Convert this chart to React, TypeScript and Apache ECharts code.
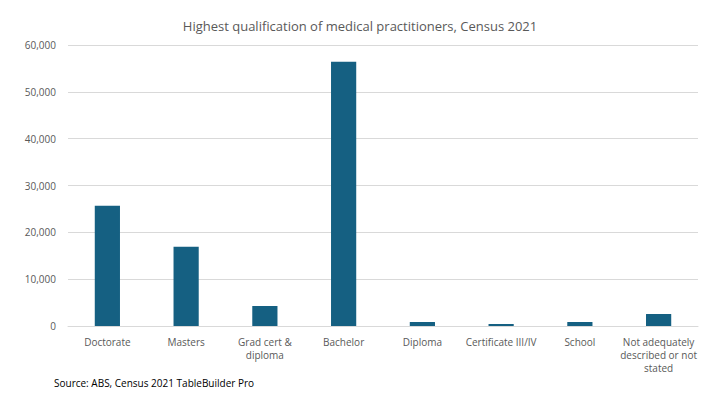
import React, { useEffect, useRef } from "react";
import * as echarts from "echarts";

const categories = [
  "Doctorate",
  "Masters",
  "Grad cert &\ndiploma",
  "Bachelor",
  "Diploma",
  "Certificate III/IV",
  "School",
  "Not adequately\ndescribed or not\nstated",
];
const values = [25650, 16900, 4270, 56400, 850, 430, 850, 2560];
const yTicks = { min: 0, max: 60000, interval: 10000 };

const FONT = "'Open Sans', 'Noto Sans', sans-serif";

export default function App() {
  const ref = useRef<HTMLDivElement>(null);
  useEffect(() => {
    document.body.style.margin = "0";
    const chart = echarts.init(ref.current!, null, { renderer: "svg" });
    chart.setOption({
      animation: false,
      backgroundColor: "#ffffff",
      title: {
        text: "Highest qualification of medical practitioners, Census 2021",
        left: "center",
        top: 14,
        textStyle: { fontFamily: FONT, fontSize: 13, fontWeight: "normal", color: "#595959" },
      },
      graphic: [
        {
          type: "text",
          left: 54,
          top: 378,
          style: {
            text: "Source: ABS, Census 2021 TableBuilder Pro",
            fontFamily: FONT,
            fontSize: 10,
            fill: "#000000",
          },
        },
      ],
      grid: { left: 68, right: 22, top: 45, bottom: 79, containLabel: false },
      xAxis: {
        type: "category",
        data: categories,
        axisLine: { lineStyle: { color: "#d9d9d9" } },
        axisTick: { show: false },
        axisLabel: {
          interval: 0,
          margin: 9,
          fontFamily: FONT,
          fontSize: 10,
          color: "#595959",
          lineHeight: 13,
        },
      },
      yAxis: {
        type: "value",
        min: yTicks.min,
        max: yTicks.max,
        interval: yTicks.interval,
        axisLine: { show: false },
        axisTick: { show: false },
        splitLine: { lineStyle: { color: "#d9d9d9" } },
        axisLabel: {
          margin: 12,
          fontFamily: FONT,
          fontSize: 10,
          color: "#595959",
          formatter: (v: number) => v.toLocaleString("en-US"),
        },
      },
      series: [
        {
          type: "bar",
          data: values,
          barWidth: "32%",
          itemStyle: { color: "#156082" },
        },
      ],
    });
    return () => chart.dispose();
  }, []);
  return <div ref={ref} style={{ width: 720, height: 405 }} />;
}
